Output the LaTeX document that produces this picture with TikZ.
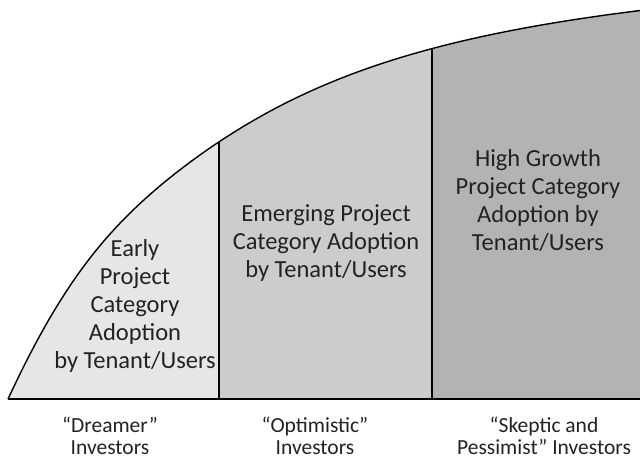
\documentclass[tikz,border=0pt]{standalone}
\usepackage{fontspec}
\setmainfont{Carlito}
\definecolor{ink}{HTML}{222222}
\definecolor{early}{HTML}{E6E6E6}
\definecolor{emerging}{HTML}{CCCCCC}
\definecolor{growth}{HTML}{B3B3B3}
\begin{document}
\begin{tikzpicture}[x=1pt,y=-1pt,
  declare function={
    cy(\x)=399-371.4*(1-exp(-(\x-8)/195))-0.05*(\x-8)
           -0.2*(\x-8)*exp(-((\x-8)/110)^2);},
  outline/.style={line width=1.4pt, black},
  phase/.style={align=center, text=ink, inner sep=0pt,
    font=\fontsize{24.5}{28}\selectfont},
  investor/.style={align=center, text=ink, inner sep=0pt,
    font=\fontsize{21.5}{22}\selectfont}]
  \useasboundingbox (0,0) rectangle (640,459);
  % shaded phases under the adoption curve
  \fill[early] (8,399) -- plot[domain=8:219, samples=80] (\x,{cy(\x)}) -- (219,399) -- cycle;
  \fill[emerging] (219,399) -- plot[domain=219:432, samples=60] (\x,{cy(\x)}) -- (432,399) -- cycle;
  \fill[growth] (432,399) -- plot[domain=432:640, samples=60] (\x,{cy(\x)}) -- (640,399) -- cycle;
  % curve, base line and phase dividers
  \draw[outline] plot[domain=8:640, samples=180] (\x,{cy(\x)});
  \coordinate (b0) at (8,399);
  \coordinate (b3) at (640,399);
  \coordinate (d1) at (219,{cy(219)});
  \coordinate (d2) at (432,{cy(432)});
  \coordinate (f1) at (219,399);
  \coordinate (f2) at (432,399);
  \draw[outline] (b0) -- (b3);
  \draw[outline] (d1) -- (f1);
  \draw[outline] (d2) -- (f2);
  % phase texts
  \node[phase] (early) at (135,306) {Early\\Project\\Category\\Adoption\\by Tenant/Users};
  \node[phase] (emerging) at (326,243) {Emerging Project\\Category Adoption\\by Tenant/Users};
  \node[phase] (growth) at (538,201) {High Growth\\Project Category\\Adoption by\\Tenant/Users};
  % investor types
  \node[investor] (dreamer) at (110,436) {“Dreamer”\\Investors};
  \node[investor] (optimist) at (315,436) {“Optimistic”\\Investors};
  \node[investor] (skeptic) at (544,436) {“Skeptic and\\Pessimist” Investors};
\end{tikzpicture}
\end{document}
